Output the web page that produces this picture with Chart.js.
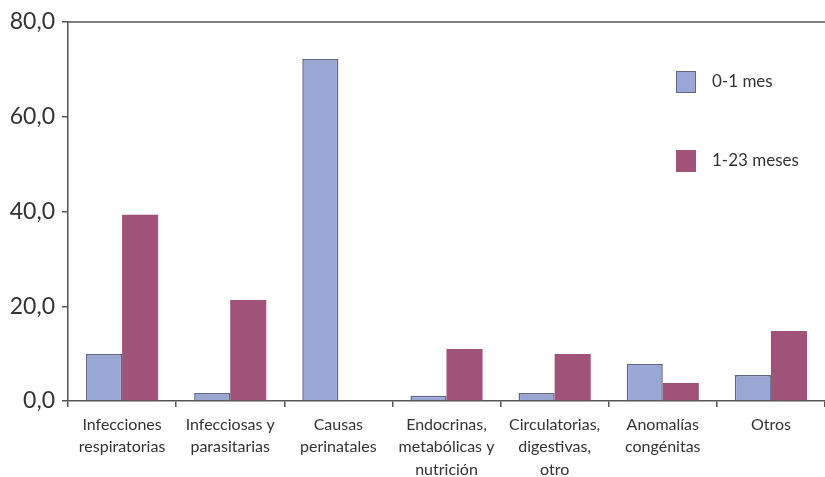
<!DOCTYPE html>
<html>
<head>
<meta charset="utf-8">
<script src="https://cdn.jsdelivr.net/npm/chart.js@4/dist/chart.umd.min.js"></script>
<style>
  html, body { margin: 0; padding: 0; background: #fff; }
  #wrap { width: 825px; height: 477px; }
</style>
</head>
<body>
<div id="wrap"><canvas id="c" width="825" height="477"></canvas></div>
<script>
// Causes of death by age group (%)
const categories = [
  ['Infecciones', 'respiratorias'],
  ['Infecciosas y', 'parasitarias'],
  ['Causas', 'perinatales'],
  ['Endocrinas,', 'metabólicas y', 'nutrición'],
  ['Circulatorias,', 'digestivas,', 'otro'],
  ['Anomalías', 'congénitas'],
  ['Otros']
];
const seriesNames = ['0-1 mes', '1-23 meses'];
const neonatal = [9.9, 1.7, 72.2, 1.1, 1.7, 7.8, 5.5];
const infant = [39.3, 21.3, 0, 11.0, 9.9, 3.8, 14.8];
const yTicks = [0, 20, 40, 60, 80];

const FONT = 'Lato, "Open Sans", sans-serif';
const TEXT = '#333333';
const AXIS = '#555555';

// Frame line along the top of the plot area plus the vertical legend on the right
const decor = {
  id: 'decor',
  afterDraw(chart) {
    const { ctx, chartArea } = chart;
    ctx.save();
    ctx.strokeStyle = AXIS;
    ctx.lineWidth = 1.5;
    ctx.beginPath();
    ctx.moveTo(chartArea.left, chartArea.top);
    ctx.lineTo(chartArea.right, chartArea.top);
    ctx.stroke();

    const x = 676, ys = [71, 150];
    chart.data.datasets.forEach((ds, i) => {
      const y = ys[i];
      ctx.fillStyle = ds.backgroundColor;
      ctx.fillRect(x, y, 20, 22);
      if (ds.borderWidth) {
        ctx.strokeStyle = ds.borderColor;
        ctx.lineWidth = 1;
        ctx.strokeRect(x + 0.5, y + 0.5, 19, 21);
      }
      ctx.fillStyle = TEXT;
      ctx.font = '17px ' + FONT;
      ctx.textBaseline = 'middle';
      ctx.textAlign = 'left';
      ctx.fillText(ds.label, x + 36, y + 11);
    });
    ctx.restore();
  }
};

new Chart(document.getElementById('c'), {
  type: 'bar',
  data: {
    labels: categories,
    datasets: [
      {
        label: seriesNames[0],
        data: neonatal,
        backgroundColor: '#9aa6d4',
        borderColor: '#5f6688',
        borderWidth: 1.5,
        borderSkipped: 'bottom'
      },
      {
        label: seriesNames[1],
        data: infant,
        backgroundColor: '#a05278',
        borderWidth: 0
      }
    ]
  },
  options: {
    responsive: false,
    animation: false,
    layout: { padding: { top: 22, right: 0, bottom: 0, left: 0 } },
    plugins: {
      legend: { display: false },
      tooltip: { enabled: false }
    },
    datasets: {
      bar: { categoryPercentage: 0.667, barPercentage: 1.0 }
    },
    scales: {
      x: {
        afterFit(scale) { scale.height = 76; },
        grid: {
          offset: true,
          drawOnChartArea: false,
          drawTicks: true,
          tickLength: 6,
          color: AXIS,
          lineWidth: 1.5
        },
        border: { display: true, color: AXIS, width: 1.5 },
        ticks: {
          color: TEXT,
          font: { family: FONT, size: 16, lineHeight: 1.42 },
          padding: 6,
          maxRotation: 0,
          autoSkip: false
        }
      },
      y: {
        min: 0,
        max: 80,
        afterBuildTicks(scale) {
          scale.ticks = yTicks.map(v => ({ value: v }));
        },
        afterFit(scale) { scale.width = 68; },
        grid: {
          drawOnChartArea: false,
          drawTicks: true,
          tickLength: 6,
          color: AXIS,
          lineWidth: 1.5
        },
        border: { display: true, color: AXIS, width: 1.5 },
        ticks: {
          color: TEXT,
          font: { family: FONT, size: 23 },
          padding: 7,
          callback: v => v.toFixed(1).replace('.', ',')
        }
      }
    }
  },
  plugins: [decor]
});
</script>
</body>
</html>
